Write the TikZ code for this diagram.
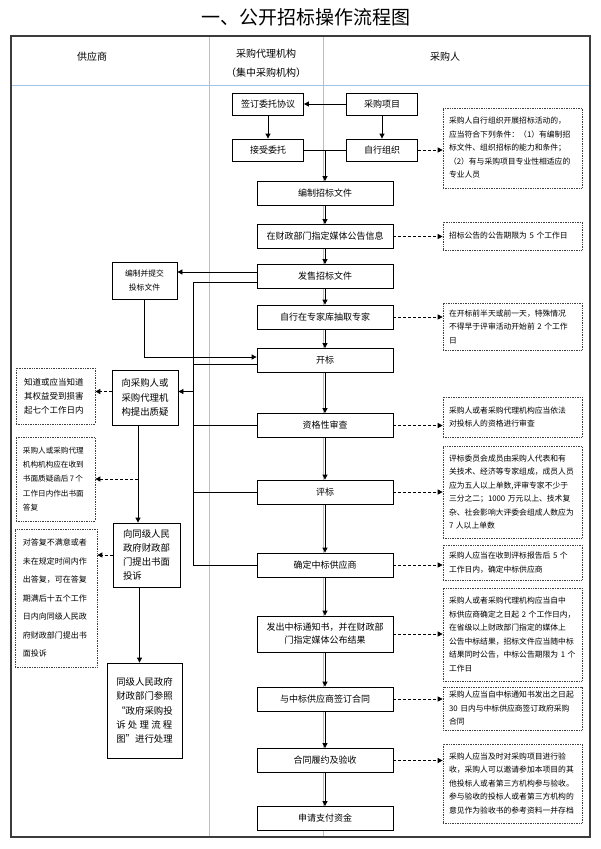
\documentclass[tikz,border=0pt]{standalone}
\usepackage{fontspec}
\setmainfont{Noto Sans CJK SC}
\usetikzlibrary{arrows.meta}
\definecolor{lanecol}{RGB}{160,196,230}
\definecolor{framecol}{RGB}{60,60,60}

\begin{document}
\begin{tikzpicture}[x=1pt,y=-1pt,
  box/.style={draw,line width=0.8pt,fill=white,inner sep=0pt,align=center,font=\fontsize{9}{13}\selectfont},
  flow/.style={box,minimum width=136pt,minimum height=24pt},
  small/.style={box,minimum width=71pt,minimum height=22pt},
  side/.style={box,align=left,font=\fontsize{9.4}{14.3}\selectfont},
  note/.style={draw=black!75,densely dotted,line width=0.7pt,fill=white,align=left,inner ysep=0pt},
  rnote/.style={note,inner xsep=6pt,text width=127pt,font=\fontsize{7.8}{13.5}\selectfont},
  arr/.style={line width=0.8pt,-{Triangle[length=5pt,width=5pt]}},
  darr/.style={arr,dash pattern=on 3pt off 2pt},
  link/.style={line width=0.8pt}]
  \useasboundingbox (0,0) rectangle (600,849);
  \fill[white] (0,0) rectangle (600,849);
  \draw[lanecol,line width=0.8pt] (209,36) -- (209,837) (323,36) -- (323,837) (11,85) -- (590,85);
  \draw[framecol,line width=1.8pt] (11,36) rectangle (590,837);

  \node (title) at (306,17) {\fontsize{19}{19}\selectfont 一、公开招标操作流程图};
  \node[font=\fontsize{10}{19}\selectfont] (gys) at (92,57) {供应商};
  \node[font=\fontsize{10}{19}\selectfont,align=center] (dljg) at (266,63.5) {采购代理机构\\（集中采购机构）};
  \node[font=\fontsize{10}{19}\selectfont] (cgr) at (445,57) {采购人};

  \node[small] (qdwt) at (268,104) {签订委托协议};
  \node[small] (cgxm) at (382,104) {采购项目};
  \node[small] (jswt) at (268,150) {接受委托};
  \node[small] (zxzz) at (382,150) {自行组织};

  \node[flow] (bz) at (325,193.5) {编制招标文件};
  \node[flow] (gg) at (325,236.5) {在财政部门指定媒体公告信息};
  \node[flow] (fs) at (325,276.5) {发售招标文件};
  \node[flow] (cq) at (325,317) {自行在专家库抽取专家};
  \node[flow] (kb) at (325,360.5) {开标};
  \node[flow] (zg) at (325,425.5) {资格性审查};
  \node[flow] (pb) at (325,492) {评标};
  \node[flow] (qd) at (325,565) {确定中标供应商};
  \node[flow,minimum height=36pt] (fc) at (325,634) {发出中标通知书，并在财政部\\门指定媒体公布结果};
  \node[flow] (qh) at (325,699) {与中标供应商签订合同};
  \node[flow] (ly) at (325,760.5) {合同履约及验收};
  \node[flow] (sq) at (325,818.5) {申请支付资金};

  \node[box,minimum width=65pt,minimum height=37pt,font=\fontsize{7.8}{14}\selectfont] (bztj) at (144.5,280.5) {编制并提交\\投标文件};
  \node[side,minimum width=66pt,minimum height=55pt] (zy) at (145,397.5) {向采购人或\\采购代理机\\构提出质疑};
  \node[side,minimum width=67pt,minimum height=64pt,font=\fontsize{9.4}{14}\selectfont] (ts) at (146.5,555) {向同级人民\\政府财政部\\门提出书面\\投诉};
  \node[side,minimum width=75pt,minimum height=95pt] (cl) at (144.5,710.5) {同级人民政府\\财政部门参照\\“政府采购投\\\makebox[56pt][s]{诉\hfil 处\hfil 理\hfil 流\hfil 程}\\图”进行处理};

  \node[note,inner xsep=8pt,text width=63pt,minimum height=56pt,font=\fontsize{8.5}{14}\selectfont] (n1) at (55.5,396) {知道或应当知道\\其权益受到损害\\起七个工作日内};
  \node[note,inner xsep=7pt,text width=65pt,minimum height=84pt,font=\fontsize{7.6}{14.3}\selectfont] (n2) at (55.5,479) {采购人或采购代理\\机构机构应在收到\\书面质疑函后\,7\,个\\工作日内作出书面\\答复};
  \node[note,inner xsep=8pt,text width=66pt,minimum height=138pt,font=\fontsize{8}{18.5}\selectfont] (n3) at (56,598) {对答复不满意或者\\未在规定时间内作\\出答复，可在答复\\期满后十五个工作\\日内向同级人民政\\府财政部门提出书\\面投诉};

  \node[rnote,minimum height=80pt] (r1) at (512.5,148) {采购人自行组织开展招标活动的，\\应当符合下列条件：（1）有编制招\\标文件、组织招标的能力和条件；\\（2）有与采购项目专业性相适应的\\专业人员};
  \node[rnote,minimum height=28pt] (r2) at (512.5,236) {招标公告的公告期限为 5 个工作日};
  \node[rnote,minimum height=47pt] (r3) at (512.5,326.5) {在开标前半天或前一天，特殊情况\\不得早于评审活动开始前 2 个工作\\日};
  \node[rnote,minimum height=40pt] (r4) at (512.5,417) {采购人或者采购代理机构应当依法\\对投标人的资格进行审查};
  \node[rnote,minimum height=92pt] (r5) at (512.5,492) {评标委员会成员由采购人代表和有\\关技术、经济等专家组成，成员人员\\应为五人以上单数,评审专家不少于\\三分之二；1000 万元以上、技术复\\杂、社会影响大评委会组成人数应为\\7 人以上单数};
  \node[rnote,minimum height=35pt] (r6) at (512.5,562.5) {采购人应当在收到评标报告后 5 个\\工作日内，确定中标供应商};
  \node[rnote,minimum height=93pt] (r7) at (512.5,634.5) {采购人或者采购代理机构应当自中\\标供应商确定之日起 2 个工作日内，\\在省级以上财政部门指定的媒体上\\公告中标结果，招标文件应当随中标\\结果同时公告，中标公告期限为 1 个\\工作日};
  \node[rnote,minimum height=43pt] (r8) at (512.5,708.5) {采购人应当自中标通知书发出之日起\\30 日内与中标供应商签订政府采购\\合同};
  \node[rnote,minimum height=79pt] (r9) at (512.5,783.5) {采购人应当及时对采购项目进行验\\收，采购人可以邀请参加本项目的其\\他投标人或者第三方机构参与验收。\\参与验收的投标人或者第三方机构的\\意见作为验收书的参考资料一并存档};

  \coordinate (bus) at (193,0);

  \draw[arr] (cgxm) -- (qdwt);
  \draw[arr] (qdwt) -- (jswt);
  \draw[arr] (cgxm) -- (zxzz);
  \draw[link] (jswt) -- (zxzz);
  \draw[arr] (jswt -| bz) -- (bz);
  \draw[darr] (zxzz) -- (zxzz -| r1.west);
  \foreach \a/\b in {bz/gg,gg/fs,fs/cq,cq/kb,kb/zg,zg/pb,pb/qd,qd/fc,fc/qh,qh/ly,ly/sq}
    \draw[arr] (\a) -- (\b);
  \foreach \a/\b in {gg/r2,cq/r3,zg/r4,pb/r5,qd/r6,fc/r7,qh/r8,ly/r9}
    \draw[darr] (\a.east) -- (\a.east -| \b.west);

  \draw[arr] ([yshift=4.5pt]fs.west) -- ([yshift=4.5pt]fs.west -| bztj.east);
  \draw[link] ([yshift=-5.5pt]fs.west) -| (bus |- qd) -- (qd);
  \draw[arr] (bztj) |- ([yshift=3.5pt]kb.west);
  \draw[link] ([yshift=-3.5pt]kb.west) -- ([yshift=-3.5pt]kb.west -| bus);
  \foreach \b in {zg,pb}
    \draw[link] (bus |- \b) -- (\b);
  \draw[arr] ([yshift=6pt]zy.east -| bus) -- ([yshift=6pt]zy.east);
  \draw[darr] ([yshift=6pt]zy.west) -- ([yshift=6pt]zy.west -| n1.east);
  \draw[arr] ([xshift=-7pt]zy.south) -- ([xshift=-7pt]zy.south |- ts.north);
  \draw[darr] ([xshift=-7pt]zy.south |- n2.east) -- (n2.east);
  \draw[darr] (ts.west) -- (ts.west -| n3.east);
  \draw[arr] ([xshift=-7pt]ts.south) -- ([xshift=-7pt]ts.south |- cl.north);
\end{tikzpicture}
\end{document}
